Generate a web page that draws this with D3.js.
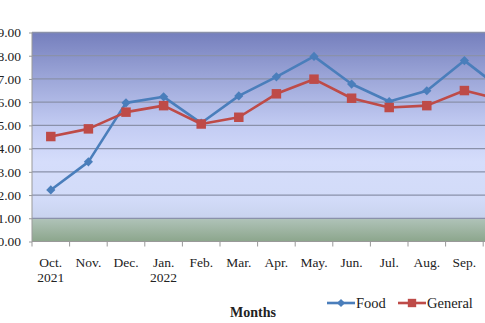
<!DOCTYPE html>
<html>
<head>
<meta charset="utf-8">
<script src="https://cdn.jsdelivr.net/npm/d3@7"></script>
<style>
  html, body { margin: 0; padding: 0; background: #fff; overflow: hidden; }
  svg { display: block; }
</style>
</head>
<body>
<svg id="chart" width="485" height="323"></svg>
<script>
// Monthly inflation rates, Oct. 2021 – Oct. 2022
const months = ["Oct.|2021", "Nov.", "Dec.", "Jan.|2022", "Feb.", "Mar.", "Apr.", "May.", "Jun.", "Jul.", "Aug.", "Sep.", "Oct."];
const food    = [2.22, 3.43, 5.97, 6.23, 5.10, 6.27, 7.09, 7.97, 6.78, 6.03, 6.49, 7.79, 6.54];
const general = [4.52, 4.85, 5.57, 5.85, 5.06, 5.35, 6.36, 6.99, 6.17, 5.77, 5.85, 6.50, 6.10];
const yTicks  = [0, 1, 2, 3, 4, 5, 6, 7, 8, 9];
const seriesNames = ["Food", "General"];
const seriesColors = ["#4a7ebb", "#be4b48"];

const svg = d3.select("#chart");
const serif = "'Liberation Serif', 'Times New Roman', serif";

// Plot area (extends past the right edge of the view)
const plotLeft = 32, plotTop = 32.5, plotBottom = 241.5;
const band = 37.6;
const plotRight = plotLeft + band * months.length;

const x = d3.scaleBand().domain(d3.range(months.length)).range([plotLeft, plotRight]).paddingInner(0).paddingOuter(0);
const y = d3.scaleLinear().domain([0, 9]).range([plotBottom, plotTop]);

// Background gradient of the plot area
const defs = svg.append("defs");
const grad = defs.append("linearGradient").attr("id", "plotBg")
  .attr("x1", 0).attr("y1", 0).attr("x2", 0).attr("y2", 1);
[
  [0.00, "#757fbd"],
  [0.20, "#99a3d6"],
  [0.45, "#c3ccf3"],
  [0.62, "#d5ddfb"],
  [0.80, "#d2dbf8"],
  [0.885, "#c9d3ee"],
  [0.89, "#b0c3b9"],
  [1.00, "#8ca68c"]
].forEach(([o, c]) => grad.append("stop").attr("offset", o).attr("stop-color", c));

svg.append("rect")
  .attr("x", plotLeft).attr("y", plotTop)
  .attr("width", plotRight - plotLeft).attr("height", plotBottom - plotTop)
  .attr("fill", "url(#plotBg)");

// Horizontal gridlines
svg.append("g")
  .selectAll("line")
  .data(yTicks.filter(d => d > 0))
  .join("line")
  .attr("x1", plotLeft).attr("x2", plotRight)
  .attr("y1", d => y(d)).attr("y2", d => y(d))
  .attr("stroke", "#8a91aa").attr("stroke-width", 1.3);

// Y axis
const yAxis = d3.axisLeft(y).tickValues(yTicks).tickFormat(d3.format(".2f")).tickSize(3).tickPadding(8);
const gy = svg.append("g").attr("transform", `translate(${plotLeft},0)`).call(yAxis);
gy.select(".domain").attr("stroke", "#999").attr("d", `M0,${plotTop}V${plotBottom}`);
gy.selectAll(".tick line").attr("stroke", "#999");
gy.selectAll("text").attr("font-family", serif).attr("font-size", 13.5).attr("fill", "#222");

// X axis with ticks between categories
const gx = svg.append("g").attr("transform", `translate(0,${plotBottom})`);
gx.append("line").attr("x1", plotLeft).attr("x2", plotRight).attr("y1", 0).attr("y2", 0).attr("stroke", "#999");
gx.selectAll(".sep")
  .data(d3.range(months.length + 1))
  .join("line")
  .attr("class", "sep")
  .attr("x1", i => plotLeft + i * x.bandwidth()).attr("x2", i => plotLeft + i * x.bandwidth())
  .attr("y1", 0).attr("y2", 5)
  .attr("stroke", "#999");
const labels = gx.selectAll(".lab")
  .data(months)
  .join("text")
  .attr("class", "lab")
  .attr("text-anchor", "middle")
  .attr("font-family", serif).attr("font-size", 13.5).attr("fill", "#222")
  .attr("transform", (d, i) => `translate(${x(i) + x.bandwidth() / 2},0)`);
labels.each(function(d) {
  const parts = d.split("|");
  d3.select(this).selectAll("tspan").data(parts).join("tspan")
    .attr("x", 0).attr("y", (p, k) => 25 + k * 15).text(p => p);
});

// Axis title
svg.append("text")
  .attr("x", 253).attr("y", 317)
  .attr("text-anchor", "middle")
  .attr("font-family", serif).attr("font-size", 14).attr("font-weight", "bold")
  .attr("fill", "#222")
  .text("Months");

// Series lines and markers
const cx = i => x(i) + x.bandwidth() / 2;
const line = d3.line().x((d, i) => cx(i)).y(d => y(d));
const allSeries = [food, general];

allSeries.forEach((vals, s) => {
  svg.append("path")
    .datum(vals)
    .attr("d", line)
    .attr("fill", "none")
    .attr("stroke", seriesColors[s])
    .attr("stroke-width", 2.6)
    .attr("stroke-linejoin", "round");
});

// Food markers: squares turned 45° (diamonds)
svg.append("g").selectAll("path")
  .data(food)
  .join("path")
  .attr("d", d3.symbol().type(d3.symbolSquare).size(42))
  .attr("transform", (d, i) => `translate(${cx(i)},${y(d)}) rotate(45)`)
  .attr("fill", seriesColors[0]);

svg.append("g").selectAll("path")
  .data(general)
  .join("path")
  .attr("d", d3.symbol().type(d3.symbolSquare).size(90))
  .attr("transform", (d, i) => `translate(${cx(i)},${y(d)})`)
  .attr("fill", seriesColors[1]);

// Legend
const legendX = [327, 398];
const legend = svg.append("g");
seriesNames.forEach((name, s) => {
  const g = legend.append("g").attr("transform", `translate(${legendX[s]},303)`);
  g.append("line").attr("x1", 0).attr("x2", 28).attr("y1", 0).attr("y2", 0)
    .attr("stroke", seriesColors[s]).attr("stroke-width", 2.6);
  g.append("path")
    .attr("d", d3.symbol().type(d3.symbolSquare).size(s === 0 ? 34 : 70)())
    .attr("transform", s === 0 ? "translate(14,0) rotate(45)" : "translate(14,0)")
    .attr("fill", seriesColors[s]);
  g.append("text").attr("x", 29).attr("y", 5)
    .attr("font-family", serif).attr("font-size", 14.5).attr("fill", "#222")
    .text(name);
});
</script>
</body>
</html>
